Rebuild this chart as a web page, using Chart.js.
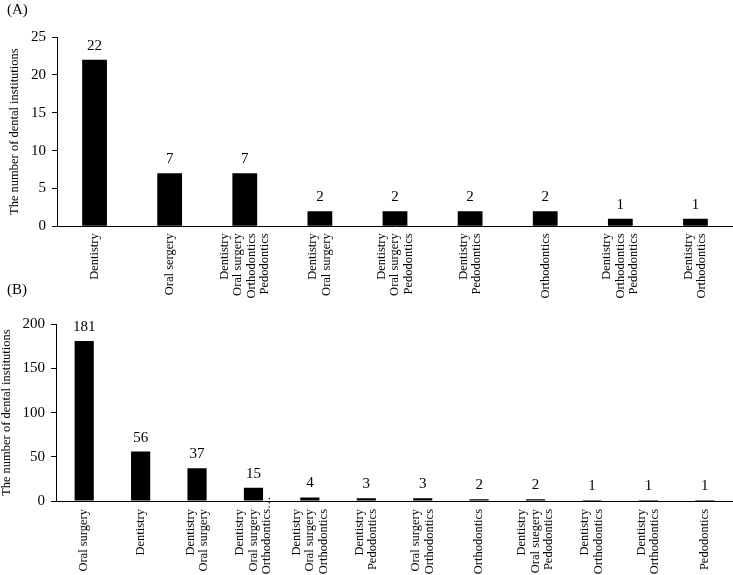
<!DOCTYPE html>
<html>
<head>
<meta charset="utf-8">
<script src="https://cdn.jsdelivr.net/npm/chart.js@4.4.0/dist/chart.umd.min.js"></script>
<style>
	body { margin: 0; background: #fff; width: 733px; height: 575px; position: relative; overflow: hidden; font-family: "Liberation Serif", serif; }
	.panel { position: absolute; left: 0; width: 733px; }
	.tag { position: absolute; left: 7px; font-size: 15px; color: #000; line-height: 17px; }
</style>
</head>
<body>
<div class="panel" style="top:0;height:300px"><canvas id="chartA"></canvas></div>
<div class="panel" style="top:300px;height:275px"><canvas id="chartB"></canvas></div>
<div class="tag" style="top:1px">(A)</div>
<div class="tag" style="top:281px">(B)</div>
<script>
// panel A
const categoriesA = [
	['Dentistry'],
	['Oral sergery'],
	['Dentistry', 'Oral surgery', 'Orthodontics', 'Pedodontics'],
	['Dentistry', 'Oral surgery'],
	['Dentistry', 'Oral surgery', 'Pedodontics'],
	['Dentistry', 'Pedodontics'],
	['Orthodontics'],
	['Dentistry', 'Orthodontics', 'Pedodontics'],
	['Dentistry', 'Orthodontics']
];
const valuesA = [22, 7, 7, 2, 2, 2, 2, 1, 1];
const yMaxA = 25, yStepA = 5;

// panel B
const categoriesB = [
	['Oral surgery'],
	['Dentistry'],
	['Dentistry', 'Oral surgery'],
	['Dentistry', 'Oral surgery', 'Orthodontics…'],
	['Dentistry', 'Oral surgery', 'Orthodontics'],
	['Dentistry', 'Pedodontics'],
	['Oral surgery', 'Orthodontics'],
	['Orthodontics'],
	['Dentistry', 'Oral suegery', 'Pedodontics'],
	['Dentistry', 'Orthodontics'],
	['Dentistry', 'Orthodontics'],
	['Pedodontics']
];
const valuesB = [181, 56, 37, 15, 4, 3, 3, 2, 2, 1, 1, 1];
const yMaxB = 200, yStepB = 50;

const yTitle = 'The number of dental institutions';

Chart.defaults.font.family = '"Liberation Serif", "Times New Roman", serif';
Chart.defaults.color = '#000';

// value on top of each bar + rotated, centred multi-line category labels
const labelPlugin = {
	id: 'labelPlugin',
	afterDatasetsDraw(chart, args, opts) {
		const ctx = chart.ctx;
		const meta = chart.getDatasetMeta(0);
		const xScale = chart.scales.x;
		const values = chart.data.datasets[0].data;
		ctx.save();
		ctx.fillStyle = '#000';
		ctx.font = '15px "Liberation Serif", serif';
		ctx.textAlign = 'center';
		ctx.textBaseline = 'alphabetic';
		meta.data.forEach((bar, i) => {
			ctx.fillText(String(values[i]), bar.x, bar.y - 10);
		});

		ctx.font = '12.5px "Liberation Serif", serif';
		ctx.textBaseline = 'middle';
		const lh = 13.5;
		chart.data.labels.forEach((lines, i) => {
			const x = xScale.getPixelForValue(i);
			lines.forEach((line, j) => {
				ctx.save();
				ctx.translate(x + (j - (lines.length - 1) / 2) * lh, xScale.top + opts.gap);
				ctx.rotate(-Math.PI / 2);
				// a cut-off line: the ellipsis runs past the end of the text
				const cut = line.endsWith('…');
				ctx.textAlign = 'right';
				ctx.fillText(cut ? line.slice(0, -1) : line, 0, 0);
				if (cut) {
					ctx.textAlign = 'left';
					ctx.fillText('…', 0, 0);
				}
				ctx.restore();
			});
		});
		ctx.restore();
	}
};

function makeChart(id, categories, values, yMax, yStep, pad, axisW, axisH, gap, catPct) {
	return new Chart(document.getElementById(id).getContext('2d'), {
		type: 'bar',
		data: {
			labels: categories,
			datasets: [{
				data: values,
				backgroundColor: '#000',
				borderWidth: 0,
				barPercentage: 1,
				categoryPercentage: catPct
			}]
		},
		options: {
			responsive: true,
			maintainAspectRatio: false,
			animation: false,
			layout: { padding: pad },
			plugins: {
				legend: { display: false },
				tooltip: { enabled: false },
				labelPlugin: { gap: gap }
			},
			scales: {
				x: {
					grid: { display: false },
					border: { display: true, color: '#000', width: 1 },
					ticks: { display: false },
					afterFit(scale) { scale.height = axisH; }
				},
				y: {
					min: 0,
					max: yMax,
					ticks: { stepSize: yStep, padding: 6, font: { size: 15 }, color: '#000' },
					grid: { drawOnChartArea: false, drawTicks: true, tickLength: 5, color: '#000' },
					border: { display: true, color: '#000', width: 1 },
					title: {
						display: true,
						text: yTitle,
						font: { size: 12.5, lineHeight: 1 },
						padding: { top: 0, bottom: 0 },
						color: '#000'
					},
					afterFit(scale) { scale.width = axisW; }
				}
			}
		},
		plugins: [labelPlugin]
	});
}

makeChart('chartA', categoriesA, valuesA, yMaxA, yStepA,
	{ top: 37, left: 8.5, right: 0, bottom: 0 }, 48.5, 73.7, 7, 0.33);
makeChart('chartB', categoriesB, valuesB, yMaxB, yStepB,
	{ top: 24.3, left: 0, right: 0, bottom: 0 }, 56, 74, 8, 0.34);
</script>
</body>
</html>
